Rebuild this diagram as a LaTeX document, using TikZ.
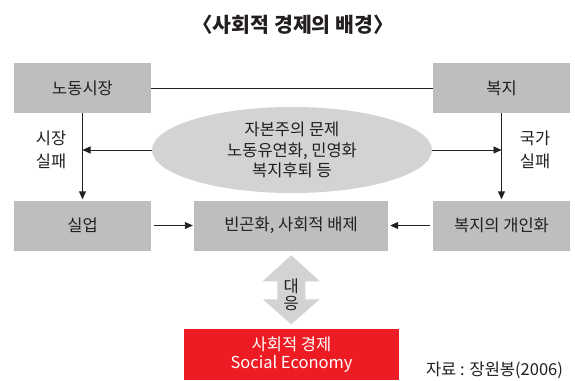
\documentclass[tikz,border=0pt]{standalone}
\usepackage{fontspec}
\setmainfont{Noto Sans CJK KR}
\usetikzlibrary{positioning,calc,arrows.meta,shapes.geometric}
\definecolor{boxgray}{RGB}{188,190,192}
\definecolor{ovalgray}{RGB}{209,211,212}
\definecolor{sered}{RGB}{237,28,36}
\definecolor{ink}{RGB}{35,31,32}
\tikzset{
    every node/.style={font=\fontsize{16.5pt}{20.5pt}\selectfont, text=ink},
    cell/.style={fill=boxgray, minimum width=137pt, minimum height=50pt, inner sep=0pt},
    issue/.style={ellipse, fill=ovalgray, minimum width=280pt, minimum height=86pt,
        inner sep=0pt, align=center},
    link/.style={draw=ink, line width=0.9pt},
    flow/.style={link, -{Triangle[length=8pt,width=7pt]}}
}

\begin{document}
\begin{tikzpicture}[x=1pt,y=-1pt]
\useasboundingbox (0,0) rectangle (575,380);

\node[font=\bfseries\fontsize{20.5pt}{22pt}\selectfont] (title) at (293,25) {〈사회적 경제의 배경〉};

\node[cell] (market) at (82.5,88) {노동시장};
\node[cell] (welfare) at (501.5,88) {복지};
\node[cell] (unemp) at (82.5,225.5) {실업};
\node[cell, minimum width=194pt] (poverty) at (291,225.5) {빈곤화, 사회적 배제};
\node[cell] (private) at (501.5,225.5) {복지의 개인화};
\node[issue] (issue) at (292,150) {자본주의 문제\\노동유연화, 민영화\\복지후퇴 등};

\node[align=center, font=\fontsize{16.5pt}{23pt}\selectfont] (mfail) at (51,150) {시장\\실패};
\node[align=center, font=\fontsize{16.5pt}{23pt}\selectfont] (sfail) at (535,150) {국가\\실패};

\node[cell, fill=sered, text=white, minimum width=215pt, minimum height=51pt, align=center,
    font=\fontsize{16.5pt}{17.5pt}\selectfont] (social) at (291.5,354.5) {사회적 경제\\Social Economy};
\node (source) at (494.5,370) {자료 : 장원봉(2006)};

\draw[link] (market) -- (welfare);
\draw[flow, shorten >=1pt] (market) -- (unemp);
\draw[flow, shorten >=1pt] (welfare) -- (private);
\draw[flow] (issue.west) -- (issue.west -| market);
\draw[flow] (issue.east) -- (issue.east -| welfare);
\draw[flow, shorten <=3pt, shorten >=1pt] (unemp) -- (poverty);
\draw[flow, shorten <=3pt, shorten >=2pt] (private) -- (poverty);

% response arrow
\coordinate (resp) at ($(poverty.south)!0.5!(social.north)$);
\fill[ovalgray] ($(resp)+(0,-34.5)$) -- ++(28.5,26) -- ++(-14.5,0) -- ++(0,18) -- ++(14.5,0)
    -- ++(-28.5,25) -- ++(-28.5,-25) -- ++(14.5,0) -- ++(0,-18) -- ++(-14.5,0) -- cycle;
\node[align=center, font=\fontsize{16.5pt}{17pt}\selectfont] (respond) at ([yshift=-5pt]resp) {대\\응};
\end{tikzpicture}
\end{document}
